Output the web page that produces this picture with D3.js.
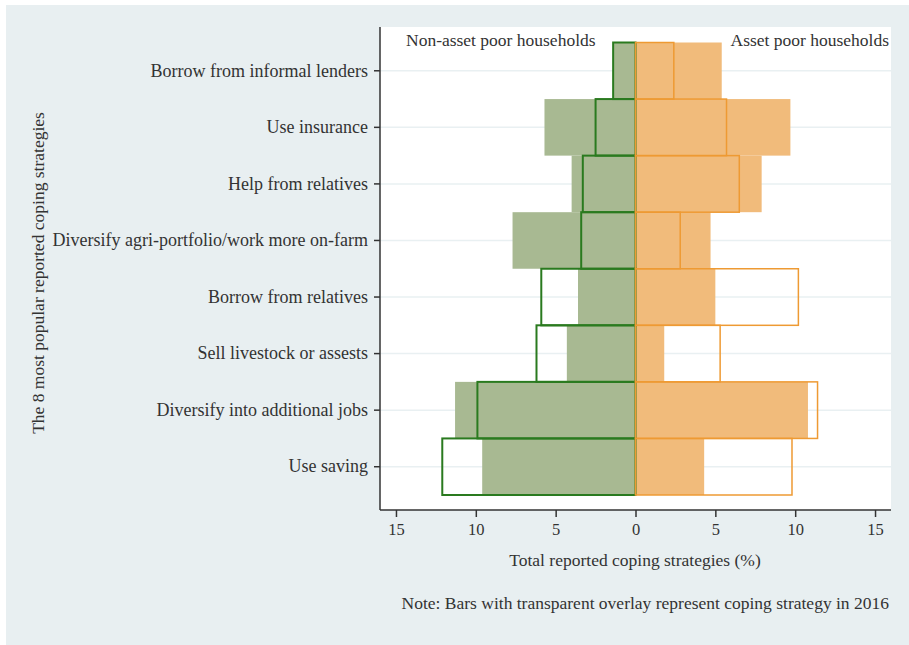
<!DOCTYPE html>
<html>
<head>
<meta charset="utf-8">
<script src="https://cdn.jsdelivr.net/npm/d3@7"></script>
<style>
  body { margin: 0; background: #fff; }
  text { font-family: "Liberation Serif", "DejaVu Serif", serif; fill: #333; }
</style>
</head>
<body>
<div id="chart"></div>
<script>
// coping strategies, top to bottom
const categories = [
    "Borrow from informal lenders",
    "Use insurance",
    "Help from relatives",
    "Diversify agri-portfolio/work more on-farm",
    "Borrow from relatives",
    "Sell livestock or assests",
    "Diversify into additional jobs",
    "Use saving"
];
// filled bars (latest round), %
const nonPoorLatest = [1.4, 5.7, 4.0, 7.7, 3.6, 4.3, 11.3, 9.6];
const poorLatest    = [5.4, 9.7, 7.9, 4.7, 5.0, 1.8, 10.8, 4.3];
// outline bars (2016), %
const nonPoor2016 = [1.4, 2.5, 3.3, 3.4, 5.9, 6.2, 9.9, 12.1];
const poor2016    = [2.4, 5.7, 6.5, 2.8, 10.2, 5.3, 11.4, 9.8];
const xTicks = [-15, -10, -5, 0, 5, 10, 15];

const width = 909, height = 645;
const plot = { left: 380, right: 891, top: 27, bottom: 510 };

const svg = d3.select("#chart").append("svg")
    .attr("width", width)
    .attr("height", height);

// outer background
svg.append("rect")
    .attr("x", 6).attr("y", 5)
    .attr("width", width - 6).attr("height", height - 5)
    .attr("fill", "#e8eff1");

svg.append("rect")
    .attr("x", plot.left).attr("y", plot.top)
    .attr("width", plot.right - plot.left).attr("height", plot.bottom - plot.top)
    .attr("fill", "#fff");

let x = d3.scaleLinear()
    .domain([-16, 16])
    .range([plot.left, plot.right]);

let y = d3.scaleBand()
    .domain(categories)
    .range([42.5, 495])
    .padding(0);

// grid lines at category centres
svg.append("g").selectAll("line")
    .data(categories)
    .enter().append("line")
    .attr("x1", plot.left).attr("x2", plot.right)
    .attr("y1", d => y(d) + y.bandwidth() / 2)
    .attr("y2", d => y(d) + y.bandwidth() / 2)
    .attr("stroke", "#e9f0f2")
    .attr("stroke-width", 1.5);

function drawBars(values, sign, cls, fill, stroke, sw) {
    svg.append("g").attr("class", cls).selectAll("rect")
        .data(values)
        .enter().append("rect")
        .attr("x", d => sign < 0 ? x(-d) : x(0))
        .attr("width", d => Math.abs(x(d) - x(0)))
        .attr("y", (d, i) => y(categories[i]))
        .attr("height", y.bandwidth())
        .attr("fill", fill)
        .attr("stroke", stroke)
        .attr("stroke-width", sw);
}

// filled bars first, 2016 outlines on top
drawBars(nonPoorLatest, -1, "np-fill", "#a8b992", "none", 0);
drawBars(poorLatest, 1, "p-fill", "#f1bb7b", "none", 0);
drawBars(nonPoor2016, -1, "np-2016", "none", "#2a7a1f", 2);
drawBars(poor2016, 1, "p-2016", "none", "#ee9a33", 1.5);

// x axis
let xAxis = d3.axisBottom(x)
    .tickValues(xTicks)
    .tickFormat(d => Math.abs(d))
    .tickSize(7)
    .tickPadding(6);

let gx = svg.append("g")
    .attr("transform", `translate(0, ${plot.bottom})`)
    .call(xAxis);
gx.select(".domain").attr("stroke", "#333").attr("stroke-width", 1.5)
    .attr("d", `M${plot.left},0H${plot.right}`);
gx.selectAll(".tick line").attr("stroke", "#333").attr("stroke-width", 1.5);
gx.selectAll(".tick text")
    .style("font-family", "Liberation Serif, serif")
    .style("font-size", "16.5px")
    .attr("fill", "#333");

// y axis
let yAxis = d3.axisLeft(y)
    .tickSize(6)
    .tickPadding(6);

let gy = svg.append("g")
    .attr("transform", `translate(${plot.left}, 0)`)
    .call(yAxis);
gy.select(".domain").attr("stroke", "#333").attr("stroke-width", 1.5)
    .attr("d", `M0,${plot.top}V${plot.bottom}`);
gy.selectAll(".tick line").attr("stroke", "#333").attr("stroke-width", 1.5);
gy.selectAll(".tick text")
    .style("font-family", "Liberation Serif, serif")
    .style("font-size", "18px")
    .attr("fill", "#333");

// titles
svg.append("text")
    .attr("transform", "translate(44, 273) rotate(-90)")
    .attr("text-anchor", "middle")
    .style("font-size", "17.5px")
    .text("The 8 most popular reported coping strategies");

svg.append("text")
    .attr("x", 635).attr("y", 566)
    .attr("text-anchor", "middle")
    .style("font-size", "17.5px")
    .text("Total reported coping strategies (%)");

svg.append("text")
    .attr("x", 889).attr("y", 609)
    .attr("text-anchor", "end")
    .style("font-size", "17.5px")
    .text("Note: Bars with transparent overlay represent coping strategy in 2016");

svg.append("text")
    .attr("x", 406).attr("y", 46)
    .style("font-size", "17.5px")
    .text("Non-asset poor households");

svg.append("text")
    .attr("x", 889).attr("y", 46)
    .attr("text-anchor", "end")
    .style("font-size", "17.5px")
    .text("Asset poor households");
</script>
</body>
</html>
